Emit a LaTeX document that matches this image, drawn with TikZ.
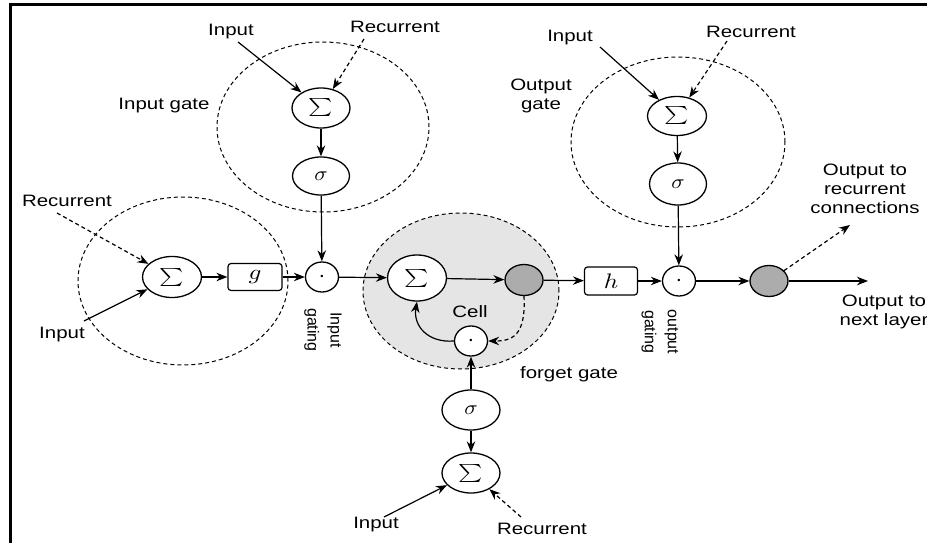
\documentclass[tikz,border=0pt]{standalone}
\usepackage{fontspec}
\setmainfont{Liberation Sans}[FakeStretch=1.24]
\newfontfamily\rotfont{Liberation Sans}
\usepackage{graphicx}
\usetikzlibrary{shapes.geometric,arrows.meta}
\newcommand\sumglyph{\scalebox{2.3}[1.8]{\normalsize$\sum$}}
\newcommand\sigglyph{\scalebox{2.2}[2.0]{\normalsize$\sigma$}}
\newcommand\dotglyph{\scalebox{2.4}{\normalsize$\cdot$}}
\newcommand\mathglyph[1]{\scalebox{2.5}[2.1]{\normalsize$#1$}}
\begin{document}
\begin{tikzpicture}[x=1pt,y=-1pt,
  lbl/.style={font=\fontsize{16.5}{19}\selectfont, inner sep=1pt, align=center},
  rlbl/.style={font=\rotfont\fontsize{16}{23}\selectfont, inner sep=1pt, align=center, rotate=-90},
  grp/.style={draw, ellipse, dash pattern=on 4pt off 3pt, line width=1pt, inner sep=0pt},
  op/.style={draw, ellipse, line width=1.3pt, fill=white, inner sep=0pt},
  dotop/.style={op, minimum width=33, minimum height=30},
  cellout/.style={draw, ellipse, line width=1.3pt, fill=gray!65, inner sep=0pt, minimum width=38, minimum height=31},
  opbox/.style={draw, rectangle, rounded corners=3pt, line width=1.2pt, fill=white, inner sep=0pt, minimum width=54, minimum height=27},
  arr/.style={-{Stealth[length=11pt,width=8.5pt]}, line width=1.2pt},
  darr/.style={arr, dash pattern=on 4pt off 3pt}
]
\useasboundingbox (0,0) rectangle (927,543);
% frame
\draw[line width=3pt] (9,4.5) -- (927,4.5);
\draw[line width=2.5pt] (10.5,3) -- (10.5,543);

% group outlines
\node[grp, minimum width=212, minimum height=170] (gIn) at (323,127) {};
\node[grp, minimum width=210, minimum height=168] (gG) at (183,281) {};
\node[grp, fill=gray!20, minimum width=196, minimum height=156] (gCell) at (461,291) {};
\node[grp, minimum width=214, minimum height=170] (gOut) at (678,142) {};

% operation nodes
\node[op, minimum width=58, minimum height=40] (sA) at (321,108) {\sumglyph};
\node[op, minimum width=57, minimum height=38] (qA) at (321,176) {\sigglyph};
\node[op, minimum width=59, minimum height=41] (sB) at (172,277) {\sumglyph};
\node[opbox] (g) at (255,277) {\mathglyph{g}};
\node[dotop] (mA) at (322,277) {\dotglyph};
\node[op, minimum width=59, minimum height=46] (sC) at (417,278) {\sumglyph};
\node[cellout] (c) at (524,280) {};
\node[dotop] (mF) at (471,341) {\dotglyph};
\node[op, minimum width=58, minimum height=40] (qF) at (471,410) {\sigglyph};
\node[op, minimum width=58, minimum height=40] (sF) at (471,473) {\sumglyph};
\node[opbox, minimum width=53, minimum height=28] (h) at (611,281) {\mathglyph{h}};
\node[dotop] (mO) at (679,281) {\dotglyph};
\node[cellout] (o) at (769,281) {};
\node[op, minimum width=59, minimum height=39] (sO) at (677,116) {\sumglyph};
\node[op, minimum width=57, minimum height=42] (qO) at (678,184) {\sigglyph};

% labels
\node[lbl] (lInA) at (231,32) {Input};
\node[lbl] (lRecA) at (395,27) {Recurrent};
\node[lbl] (lInGate) at (164,106) {Input gate};
\node[lbl] (lRecB) at (67,201) {Recurrent};
\node[lbl] (lInB) at (62,335) {Input};
\node[rlbl] (lIG) at (323,330) {Input\\gating};
\node[lbl] (lCell) at (470,312) {Cell};
\node[lbl] (lFg) at (569,374) {forget gate};
\node[lbl] (lInF) at (376,525) {Input};
\node[lbl] (lRecF) at (542,529) {Recurrent};
\node[rlbl] (lOG) at (660,332) {output\\gating};
\node[lbl] (lNext) at (884,312) {Output to\\next layer};
\node[lbl] (lRecOut) at (865,189) {Output to\\recurrent\\connections};
\node[lbl] (lOutGate) at (541,96) {Output\\gate};
\node[lbl] (lInO) at (570,38) {Input};
\node[lbl] (lRecO) at (751,32) {Recurrent};

% free ends
\coordinate (tA1) at (238,42);
\coordinate (tA2) at (364,39);
\coordinate (tB1) at (57,213);
\coordinate (tB2) at (84,321);
\coordinate (tF1) at (384,517);
\coordinate (tF2) at (521,517);
\coordinate (tO1) at (600,47);
\coordinate (tO2) at (727,41);
\coordinate (eNext) at (868,281);
\coordinate (eRec) at (850,225);

% connectors
\draw[arr] (tA1) -- (sA);
\draw[darr] (tA2) -- (sA);
\draw[arr] (sA) -- (qA);
\draw[arr] (qA) -- (mA);
\draw[darr] (tB1) -- (sB);
\draw[arr] (tB2) -- (sB);
\draw[arr] (sB) -- (g);
\draw[arr] (g) -- (mA);
\draw[arr] (mA) -- (sC);
\draw[arr] (sC) -- (c);
\draw[arr] (c) -- (h);
\draw[arr] (h) -- (mO);
\draw[arr] (mO) -- (o);
\draw[arr] (o) -- (eNext);
\draw[darr] (o) -- (eRec);
\draw[arr] (mF.west) .. controls (428,343) and (413,326) .. (sC.south);
\draw[darr] (c.south) .. controls (526,336) and (512,341) .. (mF.east);
\draw[arr] (qF) -- (mF);
\draw[arr] (qF) -- (sF);
\draw[arr] (tF1) -- (sF);
\draw[darr] (tF2) -- (sF);
\draw[arr] (tO1) -- (sO);
\draw[darr] (tO2) -- (sO);
\draw[arr] (sO) -- (qO);
\draw[arr] (qO) -- (mO);
\end{tikzpicture}
\end{document}
